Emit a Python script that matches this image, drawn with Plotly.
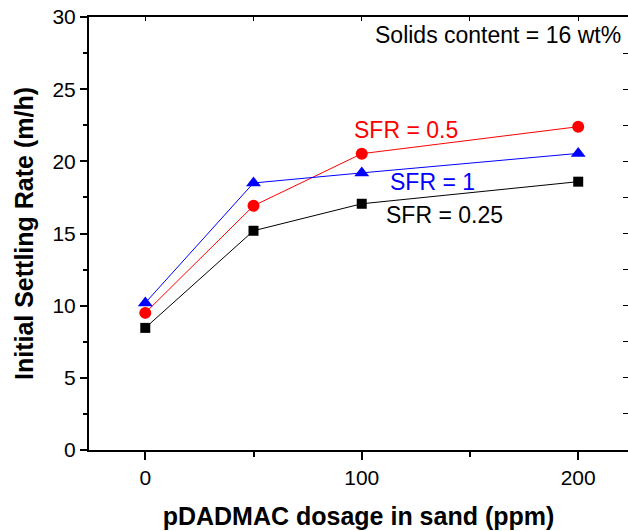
import plotly.graph_objects as go

dosage = [0, 50, 100, 200]
sfr_025 = [8.46, 15.19, 17.06, 18.59]
sfr_05 = [9.5, 16.92, 20.53, 22.4]
sfr_1 = [10.19, 18.5, 19.2, 20.55]

FONT = "Liberation Sans, Arial, sans-serif"
XR = [-26, 223]
YR = [0, 30]

fig = go.Figure()
fig.add_trace(go.Scatter(x=dosage, y=sfr_025, mode="lines+markers", name="SFR = 0.25",
                         line=dict(color="black", width=1),
                         marker=dict(symbol="square", size=10, color="black")))
fig.add_trace(go.Scatter(x=dosage, y=sfr_05, mode="lines+markers", name="SFR = 0.5",
                         line=dict(color="#ff0000", width=1),
                         marker=dict(symbol="circle", size=12, color="#ff0000")))
fig.add_trace(go.Scatter(x=dosage, y=sfr_1, mode="lines+markers", name="SFR = 1",
                         line=dict(color="#0000ff", width=1),
                         marker=dict(symbol="triangle-up", size=13, color="#0000ff")))
# dummy trace for mirror axes
fig.add_trace(go.Scatter(x=[None], y=[None], xaxis="x2", yaxis="y2", showlegend=False,
                         hoverinfo="skip"))

fig.update_layout(
    width=628, height=531,
    margin=dict(l=89, r=0, t=17, b=81),
    paper_bgcolor="white", plot_bgcolor="white",
    showlegend=False,
    font=dict(family=FONT, size=21, color="black"),
    xaxis=dict(range=XR, tickvals=[0, 100, 200], ticks="outside", ticklen=8, tickwidth=2,
               tickcolor="black", showline=True, linewidth=2, linecolor="black",
               showgrid=False, zeroline=False,
               tickfont=dict(size=21, family=FONT),
               minor=dict(tickvals=[50, 150], ticks="outside", ticklen=5, tickwidth=2,
                          tickcolor="black", showgrid=False),
               title=dict(text="<b>pDADMAC dosage in sand (ppm)</b>",
                          font=dict(size=25, family=FONT), standoff=19)),
    yaxis=dict(range=YR, tickvals=[0, 5, 10, 15, 20, 25, 30], ticks="outside", ticklen=7,
               tickwidth=2, tickcolor="black", showline=True, linewidth=2, linecolor="black",
               showgrid=False, zeroline=False,
               tickfont=dict(size=21, family=FONT),
               minor=dict(tickvals=[2.5, 7.5, 12.5, 17.5, 22.5, 27.5], ticks="outside",
                          ticklen=4, tickwidth=2, tickcolor="black", showgrid=False),
               title=dict(text="<b>Initial Settling Rate (m/h)</b>",
                          font=dict(size=25, family=FONT), standoff=12)),
    xaxis2=dict(range=XR, overlaying="x", side="top", tickvals=[0, 50, 100, 150, 200],
                ticks="inside", ticklen=4, tickwidth=1, tickcolor="black",
                showticklabels=False, showline=True, linewidth=2, linecolor="black",
                showgrid=False, zeroline=False),
    yaxis2=dict(range=YR, overlaying="y", side="right",
                tickvals=[0, 2.5, 5, 7.5, 10, 12.5, 15, 17.5, 20, 22.5, 25, 27.5, 30],
                ticks="inside", ticklen=5, tickwidth=1, tickcolor="black",
                showticklabels=False, showline=False, showgrid=False, zeroline=False),
)

fig.add_annotation(text="Solids content = 16 wt%", xref="paper", yref="paper",
                   x=1, y=1, xanchor="right", yanchor="top", xshift=-5, yshift=-3,
                   showarrow=False, font=dict(size=23, family=FONT, color="black"))
fig.add_annotation(text="SFR = 0.5", x=95.5, y=22.2, xanchor="left", yanchor="middle",
                   showarrow=False, font=dict(size=23, family=FONT, color="#ff0000"))
fig.add_annotation(text="SFR = 1", x=112.3, y=18.6, xanchor="left", yanchor="middle",
                   showarrow=False, font=dict(size=23, family=FONT, color="#0000ff"))
fig.add_annotation(text="SFR = 0.25", x=110.3, y=16.3, xanchor="left", yanchor="middle",
                   showarrow=False, font=dict(size=23, family=FONT, color="black"))

fig.write_html("out.html")
